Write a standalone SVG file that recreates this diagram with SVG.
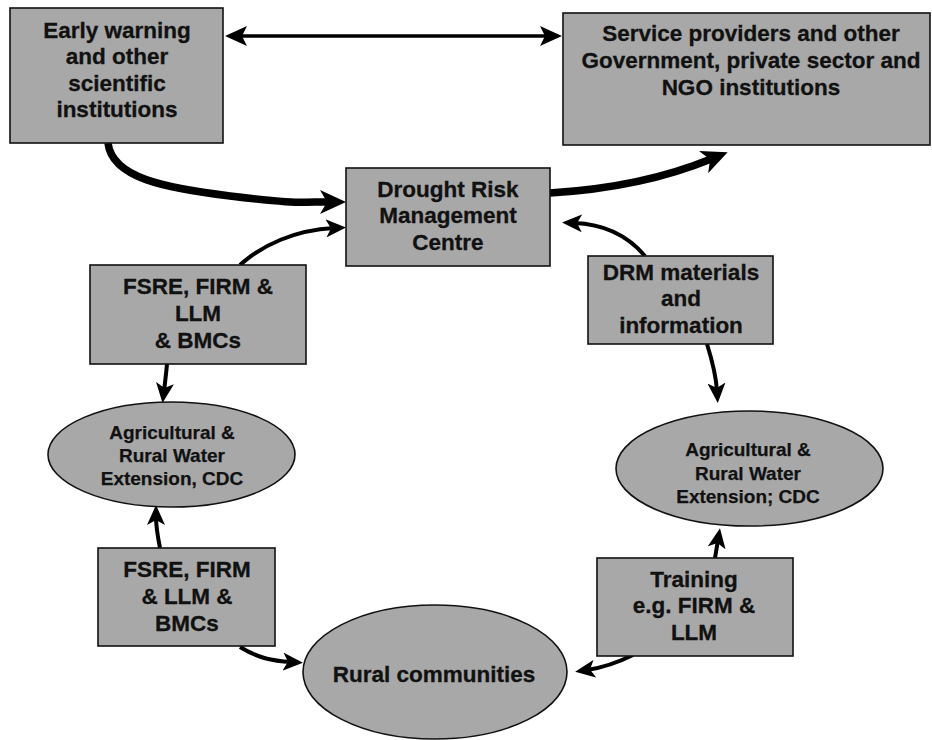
<svg xmlns="http://www.w3.org/2000/svg" width="932" height="740" viewBox="0 0 932 740">
<defs>
<style>
.box{fill:#a8a8a8;stroke:#111;stroke-width:1.6}
.t{font-family:"Liberation Sans",Arial,sans-serif;font-weight:bold;font-size:22.5px;fill:#111;stroke:#111;stroke-width:0.3;text-anchor:middle}
.ts{font-family:"Liberation Sans",Arial,sans-serif;font-weight:bold;font-size:19px;fill:#111;stroke:#111;stroke-width:0.25;text-anchor:middle}
.c{fill:none;stroke:#000;stroke-linecap:butt}
.thin{stroke-width:4}
.thick{stroke-width:7.5}
.dbl{stroke-width:3.5}
</style>
<marker id="ah" markerUnits="userSpaceOnUse" viewBox="0 0 20 18" markerWidth="20" markerHeight="18" refX="8" refY="9" orient="auto">
<path d="M0,0 L20,9 L0,18 L5,9 Z" fill="#000"/>
</marker>
<marker id="ahM" markerUnits="userSpaceOnUse" viewBox="0 0 22 20" markerWidth="22" markerHeight="20" refX="8" refY="10" orient="auto-start-reverse">
<path d="M0,0 L22,10 L0,20 L5,10 Z" fill="#000"/>
</marker>
<marker id="ahL" markerUnits="userSpaceOnUse" viewBox="0 0 26 24" markerWidth="26" markerHeight="24" refX="8" refY="12" orient="auto">
<path d="M0,0 L26,12 L0,24 L7,12 Z" fill="#000"/>
</marker>
</defs>
<rect width="932" height="740" fill="#fff"/>

<g id="connectors">
<line class="c dbl" x1="239" y1="36" x2="548" y2="36" marker-start="url(#ahM)" marker-end="url(#ahM)"/>
<path class="c thick" d="M108,143 C112,178 165,188 230,196 S300,202 328,202" marker-end="url(#ahL)"/>
<path class="c thick" d="M550,193 C600,190 660,180 711,159" marker-end="url(#ahL)"/>
<path class="c thin" d="M240,265 C262,245 295,230 334,228" marker-end="url(#ah)"/>
<path class="c thin" d="M645,256 C628,236 605,224 574,223" marker-end="url(#ah)"/>
<path class="c thin" d="M707,344 C712,360 716,375 717,391" marker-end="url(#ah)"/>
<path class="c thin" d="M167,364 C166,375 165,383 164,391" marker-end="url(#ah)"/>
<path class="c thin" d="M160,548 C158,538 156,528 156,517" marker-end="url(#ah)"/>
<path class="c thin" d="M240,647 C258,658 272,661 291,662" marker-end="url(#ah)"/>
<path class="c thin" d="M715,558 L718,540" marker-end="url(#ah)"/>
<path class="c thin" d="M633,655 C615,664 600,668 587,670" marker-end="url(#ah)"/>
</g>

<g id="early-warning">
<rect class="box" x="10" y="8" width="213" height="135"/>
<text class="t" x="117" y="38">Early warning</text>
<text class="t" x="117" y="64">and other</text>
<text class="t" x="117" y="91">scientific</text>
<text class="t" x="117" y="117">institutions</text>
</g>

<g id="service-providers">
<rect class="box" x="563" y="13" width="367" height="132"/>
<text class="t" x="751" y="41">Service providers and other</text>
<text class="t" x="751" y="68">Government, private sector and</text>
<text class="t" x="751" y="95">NGO institutions</text>
</g>

<g id="drm-centre">
<rect class="box" x="346" y="168" width="204" height="98"/>
<text class="t" x="448" y="197">Drought Risk</text>
<text class="t" x="448" y="223">Management</text>
<text class="t" x="448" y="250">Centre</text>
</g>

<g id="fsre-upper">
<rect class="box" x="90" y="265" width="216" height="99"/>
<text class="t" x="198" y="294">FSRE, FIRM &amp;</text>
<text class="t" x="198" y="321">LLM</text>
<text class="t" x="198" y="348">&amp; BMCs</text>
</g>

<g id="drm-materials">
<rect class="box" x="588" y="256" width="185" height="88"/>
<text class="t" x="681" y="280">DRM materials</text>
<text class="t" x="681" y="306">and</text>
<text class="t" x="681" y="333">information</text>
</g>

<g id="extension-left">
<ellipse class="box" cx="171.5" cy="454.5" rx="123.5" ry="52.5"/>
<text class="ts" x="172" y="439">Agricultural &amp;</text>
<text class="ts" x="172" y="462">Rural Water</text>
<text class="ts" x="172" y="485">Extension, CDC</text>
</g>

<g id="extension-right">
<ellipse class="box" cx="749.5" cy="468.5" rx="133.5" ry="57.5"/>
<text class="ts" x="748" y="456">Agricultural &amp;</text>
<text class="ts" x="748" y="480">Rural Water</text>
<text class="ts" x="748" y="503">Extension; CDC</text>
</g>

<g id="fsre-lower">
<rect class="box" x="98" y="548" width="177" height="98"/>
<text class="t" x="187" y="577">FSRE, FIRM</text>
<text class="t" x="187" y="604">&amp; LLM &amp;</text>
<text class="t" x="187" y="631">BMCs</text>
</g>

<g id="training">
<rect class="box" x="597" y="558" width="196" height="98"/>
<text class="t" x="694" y="587">Training</text>
<text class="t" x="694" y="613">e.g. FIRM &amp;</text>
<text class="t" x="694" y="640">LLM</text>
</g>

<g id="rural-communities">
<ellipse class="box" cx="435" cy="672" rx="132" ry="67"/>
<text class="t" x="434" y="682">Rural communities</text>
</g>
</svg>
